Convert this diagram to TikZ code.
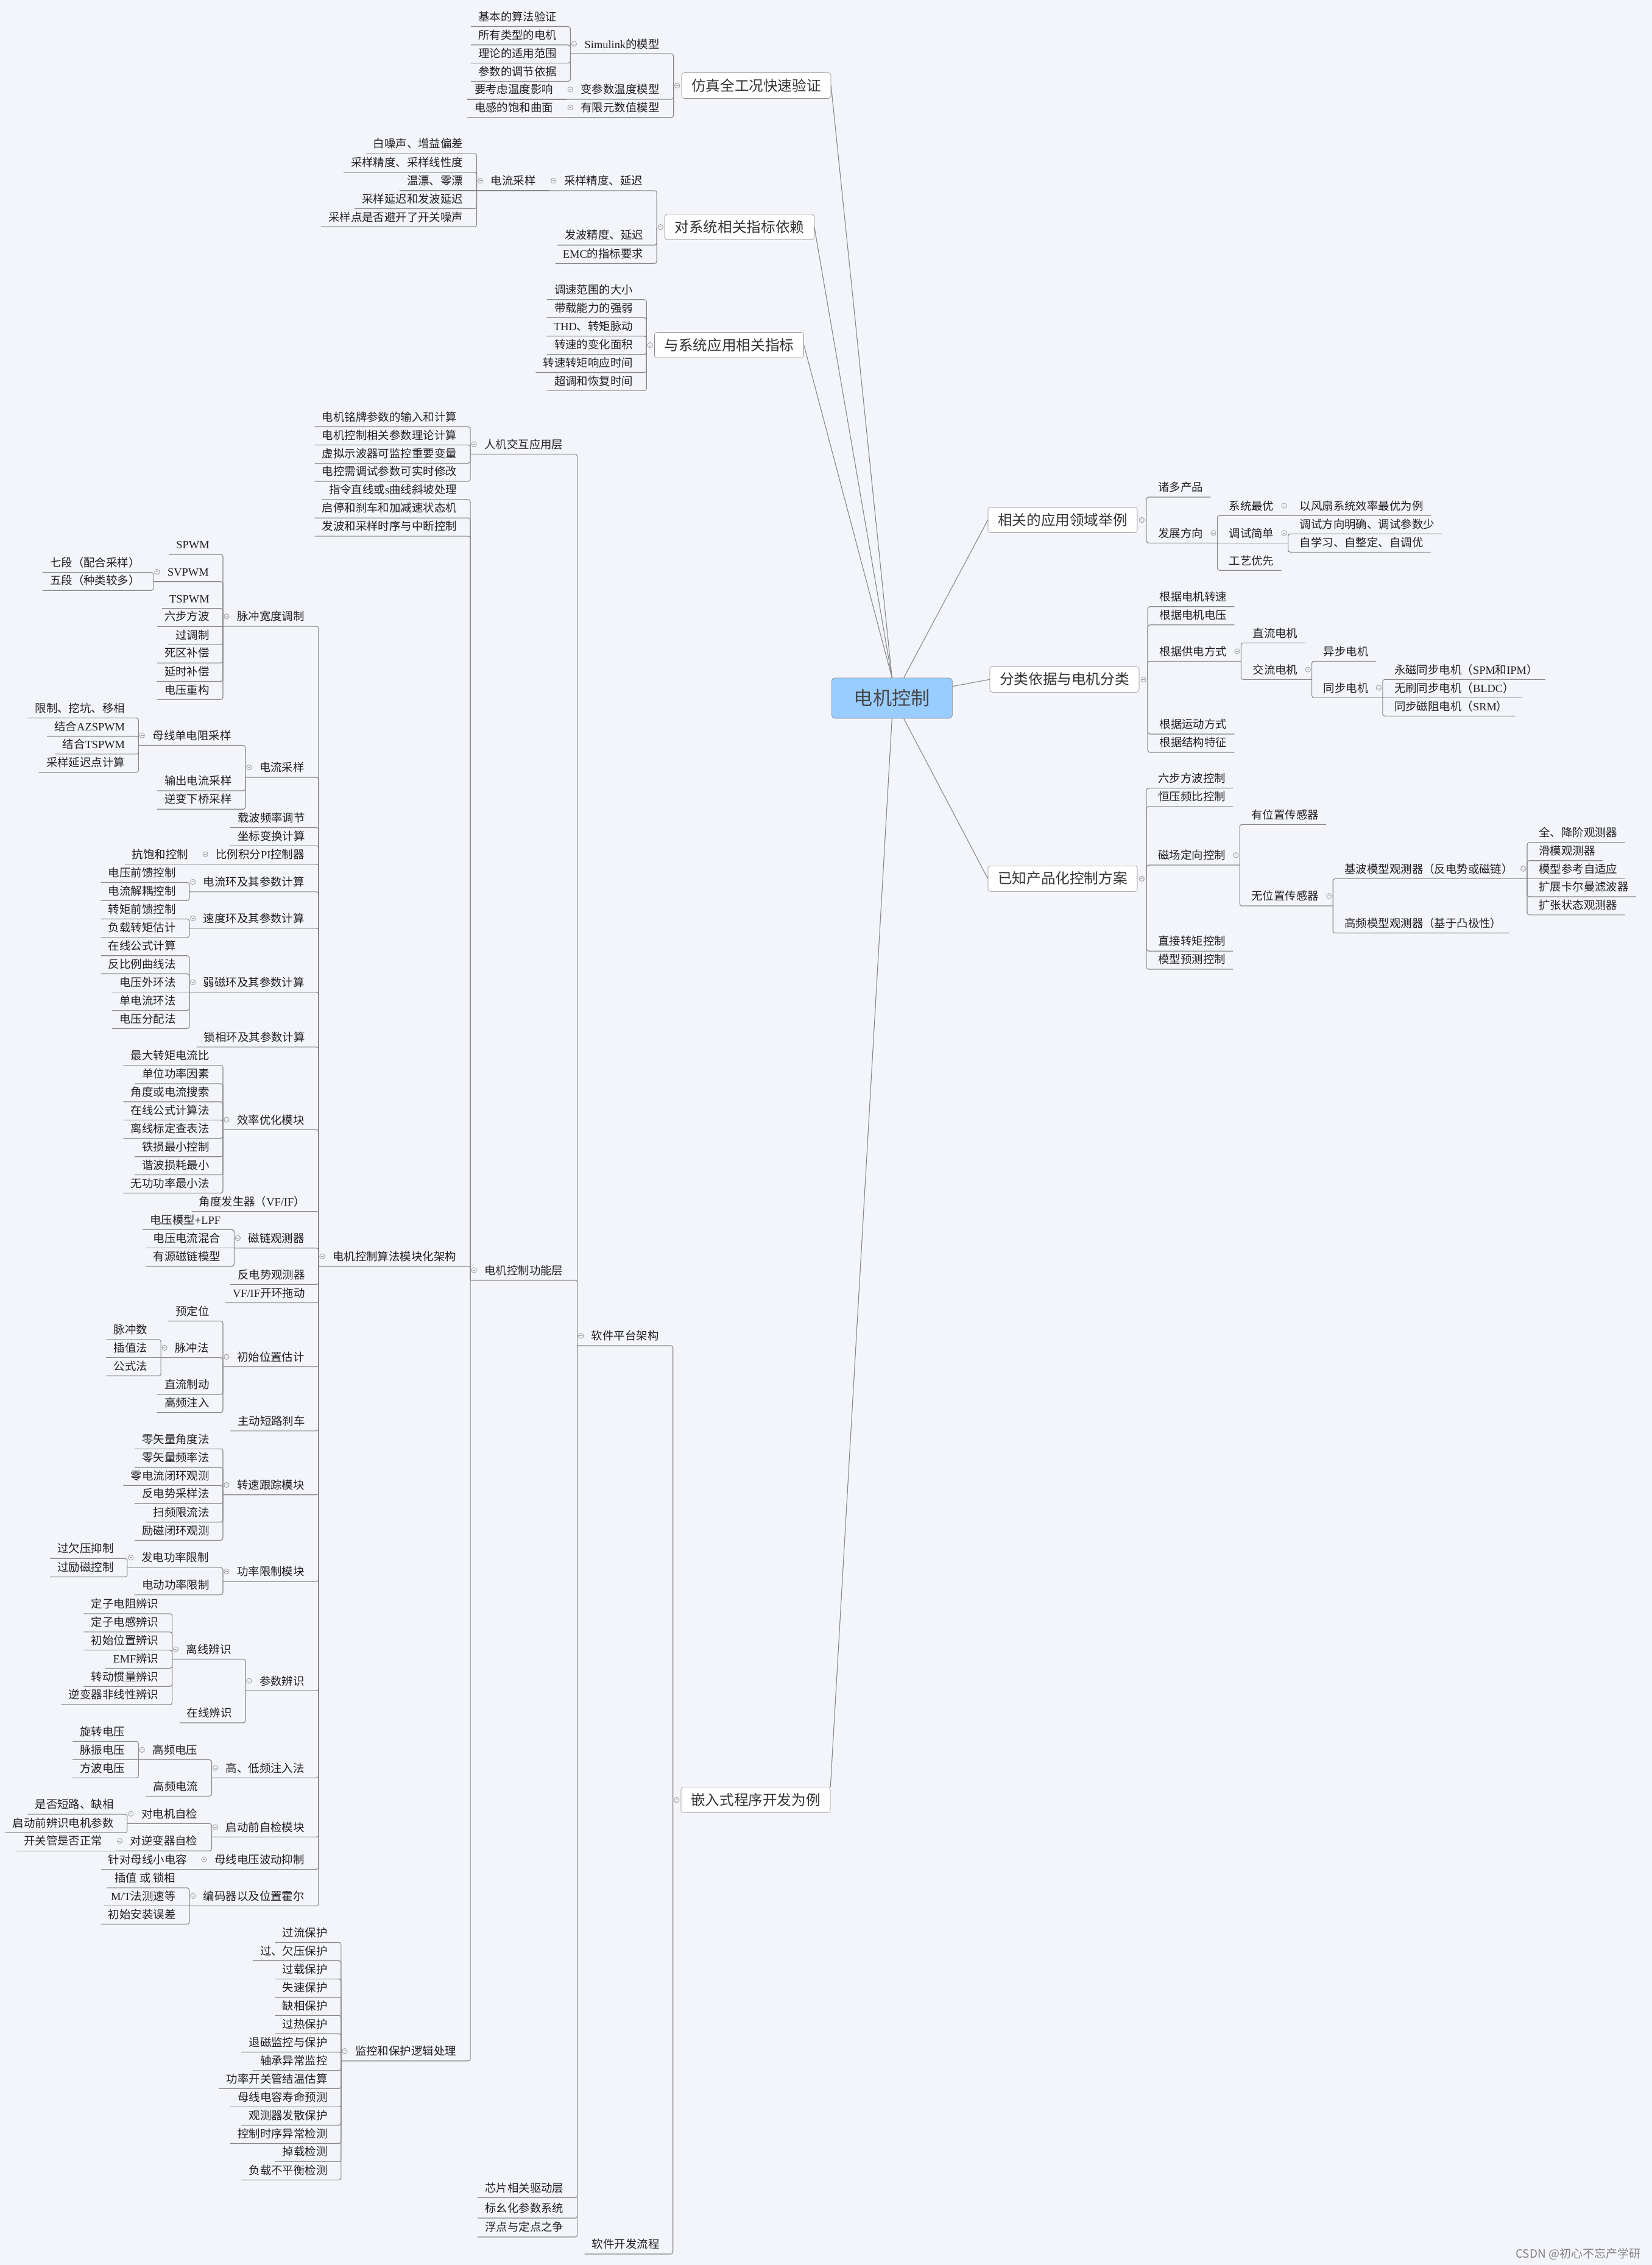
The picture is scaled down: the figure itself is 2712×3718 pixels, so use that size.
\documentclass[tikz,border=0pt]{standalone}
\usepackage{fontspec}
\setmainfont{Noto Sans CJK SC}
\newfontfamily\latn{Liberation Serif}

\definecolor{bgcol}{RGB}{243,245,250}
\definecolor{rootblue}{RGB}{153,204,255}
\definecolor{linegray}{RGB}{135,135,135}

\begin{document}
\begin{tikzpicture}[
	x=0.25mm, y=-0.25mm,
	root/.style={
		rectangle,
		rounded corners=1.3mm,
		draw=black!50,
		fill=rootblue,
		minimum width=49.5mm,
		minimum height=16.6mm,
		inner sep=0pt,
		text height=6.4mm,
		text depth=0.8mm,
		text=black!72,
		font=\fontsize{22.2pt}{26pt}\selectfont
	},
	main/.style={
		rectangle,
		rounded corners=1mm,
		draw=black!45,
		fill=white,
		minimum width=61.25mm,
		minimum height=10.5mm,
		inner sep=0pt,
		text height=4.85mm,
		text depth=0.6mm,
		text=black!80,
		font=\fontsize{16.8pt}{20pt}\selectfont
	},
	topic/.style={
		inner xsep=0pt,
		inner ysep=2.25mm,
		text height=3.5mm,
		text depth=0pt,
		text=black!88,
		font=\fontsize{13.1pt}{15pt}\selectfont
	},
	lleaf/.style={topic, anchor=south east,
		execute at begin node={\hspace*{3mm}},
		execute at end node={\hspace*{5.5mm}}},
	lsub/.style={topic, anchor=south east,
		execute at begin node={\hspace*{5.75mm}},
		execute at end node={\hspace*{5.75mm}}},
	rleaf/.style={topic, anchor=south west,
		execute at begin node={\hspace*{4.75mm}},
		execute at end node={\hspace*{3mm}}},
	rsub/.style={topic, anchor=south west,
		execute at begin node={\hspace*{4.75mm}},
		execute at end node={\hspace*{5.75mm}}},
	link/.style={draw=linegray, line width=0.28mm, rounded corners=0.9mm},
	spoke/.style={draw=linegray, line width=0.28mm},
	foldico/.style={draw=black!40, line width=0.2mm},
	wmark/.style={anchor=east, text=black!50, font=\fontsize{13.5pt}{16pt}\selectfont}
]

% Hintergrund
\fill[bgcol] (0,0) rectangle (2712,3718);
\useasboundingbox (0,0) rectangle (2712,3718);

% Zentrum
\node[root] (root) at (1464.3,1146) {电机控制};

% Hauptthemen
\node[main] (simu) at (1241.5,140.5) {仿真全工况快速验证};
\node[main] (depend) at (1214,372.7) {对系统相关指标依赖};
\node[main] (indexm) at (1197,566.5) {与系统应用相关指标};
\node[main] (embed) at (1240.5,2954.5) {嵌入式程序开发为例};
\node[main] (appl) at (1744.5,853.5) {相关的应用领域举例};
\node[main] (classify) at (1747.5,1115.3) {分类依据与电机分类};
\node[main] (scheme) at (1744.5,1442.4) {已知产品化控制方案};

\coordinate (simub) at ([xshift=-3.25mm]simu.west);
\coordinate (dependb) at ([xshift=-3.25mm]depend.west);
\coordinate (indexb) at ([xshift=-3.25mm]indexm.west);
\coordinate (embedb) at ([xshift=-3.25mm]embed.west);
\coordinate (applb) at ([xshift=3.7mm]appl.east);
\coordinate (classifyb) at ([xshift=3.5mm]classify.east);
\coordinate (schemeb) at ([xshift=3.7mm]scheme.east);

% Ast: Simulation
\node[lsub] (sml) at (simub |- 0,88.3) {{\latn Simulink}的模型};
\node[lleaf] (sml1) at (sml.south west |- 0,43.5) {基本的算法验证};
\node[lleaf] (sml2) at (sml.south west |- 0,73.8) {所有类型的电机};
\node[lleaf] (sml3) at (sml.south west |- 0,103.6) {理论的适用范围};
\node[lleaf] (sml4) at (sml.south west |- 0,133.5) {参数的调节依据};
\node[lsub] (vtm) at (simub |- 0,163) {变参数温度模型};
\node[lleaf] (vtm1) at (vtm.south west |- 0,163) {要考虑温度影响};
\node[lsub] (fem) at (simub |- 0,192.8) {有限元数值模型};
\node[lleaf] (fem1) at (fem.south west |- 0,192.8) {电感的饱和曲面};

% Ast: Systemkennwerte
\node[lsub] (spd) at (dependb |- 0,313) {采样精度、延迟};
\node[lsub] (isd) at (spd.south west |- 0,313) {电流采样};
\node[lleaf] (isd1) at (isd.south west |- 0,252.1) {白噪声、增益偏差};
\node[lleaf] (isd2) at (isd.south west |- 0,282.8) {采样精度、采样线性度};
\node[lleaf] (isd3) at (isd.south west |- 0,313) {温漂、零漂};
\node[lleaf] (isd4) at (isd.south west |- 0,342.5) {采样延迟和发波延迟};
\node[lleaf] (isd5) at (isd.south west |- 0,372.3) {采样点是否避开了开关噪声};
\node[lleaf] (pwd) at (dependb |- 0,402.2) {发波精度、延迟};
\node[lleaf] (emc) at (dependb |- 0,432.4) {{\latn EMC}的指标要求};

% Ast: Anwendungskennwerte
\node[lleaf] (idx1) at (indexb |- 0,491.7) {调速范围的大小};
\node[lleaf] (idx2) at (indexb |- 0,521.6) {带载能力的强弱};
\node[lleaf] (idx3) at (indexb |- 0,551.8) {{\latn THD}、转矩脉动};
\node[lleaf] (idx4) at (indexb |- 0,581.7) {转速的变化面积};
\node[lleaf] (idx5) at (indexb |- 0,611.5) {转速转矩响应时间};
\node[lleaf] (idx6) at (indexb |- 0,641.4) {超调和恢复时间};

% Ast: Embedded
\node[lsub] (swa) at (embedb |- 0,2209) {软件平台架构};
\node[lleaf] (swf) at (embedb |- 0,3700) {软件开发流程};
\node[lsub] (hmi) at (swa.south west |- 0,745.4) {人机交互应用层};
\node[lsub] (mcl) at (swa.south west |- 0,2101.3) {电机控制功能层};
\node[lleaf] (drv) at (swa.south west |- 0,3607.5) {芯片相关驱动层};
\node[lleaf] (pu) at (swa.south west |- 0,3641) {标幺化参数系统};
\node[lleaf] (flt) at (swa.south west |- 0,3672) {浮点与定点之争};

\node[lleaf] (hmi1) at (hmi.south west |- 0,700.6) {电机铭牌参数的输入和计算};
\node[lleaf] (hmi2) at (hmi.south west |- 0,730.4) {电机控制相关参数理论计算};
\node[lleaf] (hmi3) at (hmi.south west |- 0,760.3) {虚拟示波器可监控重要变量};
\node[lleaf] (hmi4) at (hmi.south west |- 0,790.1) {电控需调试参数可实时修改};

\node[lleaf] (cmd) at (mcl.south west |- 0,820) {指令直线或{\latn s}曲线斜坡处理};
\node[lleaf] (ssm) at (mcl.south west |- 0,850.2) {启停和刹车和加减速状态机};
\node[lleaf] (tim) at (mcl.south west |- 0,880.1) {发波和采样时序与中断控制};
\node[lsub] (alg) at (mcl.south west |- 0,2078.5) {电机控制算法模块化架构};
\node[lsub] (mon) at (mcl.south west |- 0,3383) {监控和保护逻辑处理};

% Algorithmusmodule
\node[lsub] (pwm) at (alg.south west |- 0,1028.1) {脉冲宽度调制};
\node[lsub] (isp) at (alg.south west |- 0,1276) {电流采样};
\node[lleaf] (car) at (alg.south west |- 0,1358.5) {载波频率调节};
\node[lleaf] (cot) at (alg.south west |- 0,1388.3) {坐标变换计算};
\node[lsub] (pictl) at (alg.south west |- 0,1418.6) {比例积分{\latn PI}控制器};
\node[lsub] (cur) at (alg.south west |- 0,1463.8) {电流环及其参数计算};
\node[lsub] (spl) at (alg.south west |- 0,1523.9) {速度环及其参数计算};
\node[lsub] (fwk) at (alg.south west |- 0,1628.8) {弱磁环及其参数计算};
\node[lleaf] (pll) at (alg.south west |- 0,1718.7) {锁相环及其参数计算};
\node[lsub] (eff) at (alg.south west |- 0,1854.3) {效率优化模块};
\node[lleaf] (ang) at (alg.south west |- 0,1988.6) {角度发生器（{\latn VF/IF}）};
\node[lsub] (flx) at (alg.south west |- 0,2048.7) {磁链观测器};
\node[lleaf] (bemf) at (alg.south west |- 0,2108.4) {反电势观测器};
\node[lleaf] (vfo) at (alg.south west |- 0,2138.6) {{\latn VF/IF}开环拖动};
\node[lsub] (ipe) at (alg.south west |- 0,2243.5) {初始位置估计};
\node[lleaf] (asc) at (alg.south west |- 0,2348.8) {主动短路刹车};
\node[lsub] (spt) at (alg.south west |- 0,2453.7) {转速跟踪模块};
\node[lsub] (plm) at (alg.south west |- 0,2596) {功率限制模块};
\node[lsub] (pid) at (alg.south west |- 0,2775.4) {参数辨识};
\node[lsub] (hlf) at (alg.south west |- 0,2918.4) {高、低频注入法};
\node[lsub] (chk) at (alg.south west |- 0,3015.4) {启动前自检模块};
\node[lsub] (dcb) at (alg.south west |- 0,3068.5) {母线电压波动抑制};
\node[lsub] (enc) at (alg.south west |- 0,3128.6) {编码器以及位置霍尔};

\node[lleaf] (spwm) at (pwm.south west |- 0,910) {{\latn SPWM}};
\node[lsub] (svpwm) at (pwm.south west |- 0,954.7) {{\latn SVPWM}};
\node[lleaf] (tspwm) at (pwm.south west |- 0,998.7) {{\latn TSPWM}};
\node[lleaf] (six) at (pwm.south west |- 0,1028.1) {六步方波};
\node[lleaf] (ovm) at (pwm.south west |- 0,1058.4) {过调制};
\node[lleaf] (dtc) at (pwm.south west |- 0,1088.2) {死区补偿};
\node[lleaf] (dlc) at (pwm.south west |- 0,1118.5) {延时补偿};
\node[lleaf] (vrc) at (pwm.south west |- 0,1148.3) {电压重构};
\node[lleaf] (sv1) at (svpwm.south west |- 0,939.4) {七段（配合采样）};
\node[lleaf] (sv2) at (svpwm.south west |- 0,969.2) {五段（种类较多）};

\node[lsub] (msr) at (isp.south west |- 0,1223.4) {母线单电阻采样};
\node[lleaf] (ocs) at (isp.south west |- 0,1298) {输出电流采样};
\node[lleaf] (ibs) at (isp.south west |- 0,1328.2) {逆变下桥采样};
\node[lleaf] (msr1) at (msr.south west |- 0,1178.6) {限制、挖坑、移相};
\node[lleaf] (msr2) at (msr.south west |- 0,1208.5) {结合{\latn AZSPWM}};
\node[lleaf] (msr3) at (msr.south west |- 0,1237.9) {结合{\latn TSPWM}};
\node[lleaf] (msr4) at (msr.south west |- 0,1267.7) {采样延迟点计算};

\node[lleaf] (pictl1) at (pictl.south west |- 0,1418.6) {抗饱和控制};
\node[lleaf] (cur1) at (cur.south west |- 0,1448.4) {电压前馈控制};
\node[lleaf] (cur2) at (cur.south west |- 0,1478.3) {电流解耦控制};
\node[lleaf] (spl1) at (spl.south west |- 0,1508.5) {转矩前馈控制};
\node[lleaf] (spl2) at (spl.south west |- 0,1538.8) {负载转矩估计};
\node[lleaf] (fwk1) at (fwk.south west |- 0,1568.7) {在线公式计算};
\node[lleaf] (fwk2) at (fwk.south west |- 0,1598.5) {反比例曲线法};
\node[lleaf] (fwk3) at (fwk.south west |- 0,1628.8) {电压外环法};
\node[lleaf] (fwk4) at (fwk.south west |- 0,1658.6) {单电流环法};
\node[lleaf] (fwk5) at (fwk.south west |- 0,1688.5) {电压分配法};

\node[lleaf] (eff1) at (eff.south west |- 0,1748.6) {最大转矩电流比};
\node[lleaf] (eff2) at (eff.south west |- 0,1778.9) {单位功率因素};
\node[lleaf] (eff3) at (eff.south west |- 0,1808.7) {角度或电流搜索};
\node[lleaf] (eff4) at (eff.south west |- 0,1838.6) {在线公式计算法};
\node[lleaf] (eff5) at (eff.south west |- 0,1868.4) {离线标定查表法};
\node[lleaf] (eff6) at (eff.south west |- 0,1898.7) {铁损最小控制};
\node[lleaf] (eff7) at (eff.south west |- 0,1928.5) {谐波损耗最小};
\node[lleaf] (eff8) at (eff.south west |- 0,1958.4) {无功功率最小法};

\node[lleaf] (flx1) at (flx.south west |- 0,2018.4) {电压模型{\latn +LPF}};
\node[lleaf] (flx2) at (flx.south west |- 0,2048.7) {电压电流混合};
\node[lleaf] (flx3) at (flx.south west |- 0,2078.5) {有源磁链模型};

\node[lleaf] (pre) at (ipe.south west |- 0,2168.5) {预定位};
\node[lsub] (pulse) at (ipe.south west |- 0,2228.6) {脉冲法};
\node[lleaf] (dcs) at (ipe.south west |- 0,2288.7) {直流制动};
\node[lleaf] (hfi) at (ipe.south west |- 0,2318.6) {高频注入};
\node[lleaf] (pulse1) at (pulse.south west |- 0,2198.8) {脉冲数};
\node[lleaf] (pulse2) at (pulse.south west |- 0,2228.6) {插值法};
\node[lleaf] (pulse3) at (pulse.south west |- 0,2258.5) {公式法};

\node[lleaf] (spt1) at (spt.south west |- 0,2378.3) {零矢量角度法};
\node[lleaf] (spt2) at (spt.south west |- 0,2408.5) {零矢量频率法};
\node[lleaf] (spt3) at (spt.south west |- 0,2438.4) {零电流闭环观测};
\node[lleaf] (spt4) at (spt.south west |- 0,2468.2) {反电势采样法};
\node[lleaf] (spt5) at (spt.south west |- 0,2498.5) {扫频限流法};
\node[lleaf] (spt6) at (spt.south west |- 0,2528.4) {励磁闭环观测};

\node[lsub] (gpl) at (plm.south west |- 0,2573.1) {发电功率限制};
\node[lleaf] (mpl) at (plm.south west |- 0,2617.8) {电动功率限制};
\node[lleaf] (gpl1) at (gpl.south west |- 0,2558.2) {过欠压抑制};
\node[lleaf] (gpl2) at (gpl.south west |- 0,2588.5) {过励磁控制};

\node[lsub] (offl) at (pid.south west |- 0,2723.5) {离线辨识};
\node[lleaf] (onl) at (pid.south west |- 0,2828) {在线辨识};
\node[lleaf] (offl1) at (offl.south west |- 0,2648.9) {定子电阻辨识};
\node[lleaf] (offl2) at (offl.south west |- 0,2678.8) {定子电感辨识};
\node[lleaf] (offl3) at (offl.south west |- 0,2708.6) {初始位置辨识};
\node[lleaf] (offl4) at (offl.south west |- 0,2738.5) {{\latn EMF}辨识};
\node[lleaf] (offl5) at (offl.south west |- 0,2768.3) {转动惯量辨识};
\node[lleaf] (offl6) at (offl.south west |- 0,2798.2) {逆变器非线性辨识};

\node[lsub] (hfv) at (hlf.south west |- 0,2888.6) {高频电压};
\node[lleaf] (hfc) at (hlf.south west |- 0,2948.3) {高频电流};
\node[lleaf] (hfv1) at (hfv.south west |- 0,2858.3) {旋转电压};
\node[lleaf] (hfv2) at (hfv.south west |- 0,2888.6) {脉振电压};
\node[lleaf] (hfv3) at (hfv.south west |- 0,2918.4) {方波电压};

\node[lsub] (cmo) at (chk.south west |- 0,2993.4) {对电机自检};
\node[lsub] (cinv) at (chk.south west |- 0,3038.2) {对逆变器自检};
\node[lleaf] (cmo1) at (cmo.south west |- 0,2978.1) {是否短路、缺相};
\node[lleaf] (cmo2) at (cmo.south west |- 0,3008.4) {启动前辨识电机参数};
\node[lleaf] (cinv1) at (cinv.south west |- 0,3038.2) {开关管是否正常};

\node[lleaf] (dcb1) at (dcb.south west |- 0,3068.5) {针对母线小电容};
\node[lleaf] (enc1) at (enc.south west |- 0,3098.8) {插值 或 锁相};
\node[lleaf] (enc2) at (enc.south west |- 0,3128.6) {{\latn M/T}法测速等};
\node[lleaf] (enc3) at (enc.south west |- 0,3158.5) {初始安装误差};

% Schutzfunktionen
\node[lleaf] (mon1) at (mon.south west |- 0,3188.4) {过流保护};
\node[lleaf] (mon2) at (mon.south west |- 0,3218.5) {过、欠压保护};
\node[lleaf] (mon3) at (mon.south west |- 0,3248.6) {过载保护};
\node[lleaf] (mon4) at (mon.south west |- 0,3278.3) {失速保护};
\node[lleaf] (mon5) at (mon.south west |- 0,3308.3) {缺相保护};
\node[lleaf] (mon6) at (mon.south west |- 0,3338.4) {过热保护};
\node[lleaf] (mon7) at (mon.south west |- 0,3368.5) {退磁监控与保护};
\node[lleaf] (mon8) at (mon.south west |- 0,3398.6) {轴承异常监控};
\node[lleaf] (mon9) at (mon.south west |- 0,3428.3) {功率开关管结温估算};
\node[lleaf] (mon10) at (mon.south west |- 0,3458.3) {母线电容寿命预测};
\node[lleaf] (mon11) at (mon.south west |- 0,3488.4) {观测器发散保护};
\node[lleaf] (mon12) at (mon.south west |- 0,3518.5) {控制时序异常检测};
\node[lleaf] (mon13) at (mon.south west |- 0,3548.2) {掉载检测};
\node[lleaf] (mon14) at (mon.south west |- 0,3578.3) {负载不平衡检测};

% Ast: Anwendungen (rechts)
\node[rleaf] (many) at (applb |- 0,816) {诸多产品};
\node[rsub] (dev) at (applb |- 0,891.3) {发展方向};
\node[rsub] (sysopt) at (dev.south east |- 0,846.3) {系统最优};
\node[rleaf] (sysopt1) at (sysopt.south east |- 0,846.3) {以风扇系统效率最优为例};
\node[rsub] (dbg) at (dev.south east |- 0,891.3) {调试简单};
\node[rleaf] (dbg1) at (dbg.south east |- 0,876.3) {调试方向明确、调试参数少};
\node[rleaf] (dbg2) at (dbg.south east |- 0,906.3) {自学习、自整定、自调优};
\node[rleaf] (proc) at (dev.south east |- 0,936.3) {工艺优先};

% Ast: Klassifikation (rechts)
\node[rleaf] (cls1) at (classifyb |- 0,995.7) {根据电机转速};
\node[rleaf] (cls2) at (classifyb |- 0,1025.7) {根据电机电压};
\node[rsub] (pwr) at (classifyb |- 0,1085.3) {根据供电方式};
\node[rleaf] (cls3) at (classifyb |- 0,1205) {根据运动方式};
\node[rleaf] (cls4) at (classifyb |- 0,1235) {根据结构特征};
\node[rleaf] (dcm) at (pwr.south east |- 0,1055.3) {直流电机};
\node[rsub] (acm) at (pwr.south east |- 0,1115.3) {交流电机};
\node[rleaf] (asm) at (acm.south east |- 0,1085.3) {异步电机};
\node[rsub] (sym) at (acm.south east |- 0,1145.3) {同步电机};
\node[rleaf] (sym1) at (sym.south east |- 0,1115.3) {永磁同步电机（{\latn SPM}和{\latn IPM}）};
\node[rleaf] (sym2) at (sym.south east |- 0,1145.3) {无刷同步电机（{\latn BLDC}）};
\node[rleaf] (sym3) at (sym.south east |- 0,1175.3) {同步磁阻电机（{\latn SRM}）};

% Ast: Regelverfahren (rechts)
\node[rleaf] (sch1) at (schemeb |- 0,1293.9) {六步方波控制};
\node[rleaf] (sch2) at (schemeb |- 0,1323.9) {恒压频比控制};
\node[rsub] (foc) at (schemeb |- 0,1420) {磁场定向控制};
\node[rleaf] (sch3) at (schemeb |- 0,1561.2) {直接转矩控制};
\node[rleaf] (sch4) at (schemeb |- 0,1591) {模型预测控制};
\node[rleaf] (sens) at (foc.south east |- 0,1353.3) {有位置传感器};
\node[rsub] (sless) at (foc.south east |- 0,1487) {无位置传感器};
\node[rsub] (fmo) at (sless.south east |- 0,1442.4) {基波模型观测器（反电势或磁链）};
\node[rleaf] (hfo) at (sless.south east |- 0,1531.5) {高频模型观测器（基于凸极性）};
\node[rleaf] (fmo1) at (fmo.south east |- 0,1383) {全、降阶观测器};
\node[rleaf] (fmo2) at (fmo.south east |- 0,1412.7) {滑模观测器};
\node[rleaf] (fmo3) at (fmo.south east |- 0,1442.4) {模型参考自适应};
\node[rleaf] (fmo4) at (fmo.south east |- 0,1472) {扩展卡尔曼滤波器};
\node[rleaf] (fmo5) at (fmo.south east |- 0,1501.8) {扩张状态观测器};

\node[wmark] (wm) at (2698,3700) {CSDN @初心不忘产学研};

% Verbindungen vom Zentrum
\draw[spoke] (root.north) -- (simu.east);
\draw[spoke] (root.north) -- (depend.east);
\draw[spoke] (root.north) -- (indexm.east);
\draw[spoke] (root.south) -- (embed.north east);
\draw[spoke] (root.60) -- (appl.west);
\draw[spoke] (root.11) -- (classify.west);
\draw[spoke] (root.-60) -- (scheme.west);

% Klammern links
\foreach \c in {sml,vtm,fem} \draw[link] (simub) |- (\c.south west);
\foreach \c in {sml1,sml2,sml3,sml4} \draw[link] (sml.south west) |- (\c.south west);
\draw[link] (vtm.south west) -- (vtm1.south west);
\draw[link] (fem.south west) -- (fem1.south west);

\foreach \c in {spd,pwd,emc} \draw[link] (dependb) |- (\c.south west);
\draw[link] (spd.south west) -- (isd.south west);
\foreach \c in {isd1,isd2,isd4,isd5} \draw[link] (isd.south west) |- (\c.south west);
\draw[link] (isd.south west) -- (isd3.south west);

\foreach \c in {idx1,idx2,idx3,idx4,idx5,idx6} \draw[link] (indexb) |- (\c.south west);

\foreach \c in {swa,swf} \draw[link] (embedb) |- (\c.south west);
\foreach \c in {hmi,mcl,drv,pu,flt} \draw[link] (swa.south west) |- (\c.south west);
\foreach \c in {hmi1,hmi2,hmi3,hmi4} \draw[link] (hmi.south west) |- (\c.south west);
\foreach \c in {cmd,ssm,tim,alg,mon} \draw[link] (mcl.south west) |- (\c.south west);

\foreach \c in {pwm,isp,car,cot,pictl,cur,spl,fwk,pll,eff,ang,flx,bemf,vfo,
	ipe,asc,spt,plm,pid,hlf,chk,dcb,enc} \draw[link] (alg.south west) |- (\c.south west);
\foreach \c in {spwm,svpwm,tspwm,ovm,dtc,dlc,vrc} \draw[link] (pwm.south west) |- (\c.south west);
\draw[link] (pwm.south west) -- (six.south west);
\foreach \c in {sv1,sv2} \draw[link] (svpwm.south west) |- (\c.south west);
\foreach \c in {msr,ocs,ibs} \draw[link] (isp.south west) |- (\c.south west);
\foreach \c in {msr1,msr2,msr3,msr4} \draw[link] (msr.south west) |- (\c.south west);
\draw[link] (pictl.south west) -- (pictl1.south west);
\foreach \c in {cur1,cur2} \draw[link] (cur.south west) |- (\c.south west);
\foreach \c in {spl1,spl2} \draw[link] (spl.south west) |- (\c.south west);
\foreach \c in {fwk1,fwk2,fwk4,fwk5} \draw[link] (fwk.south west) |- (\c.south west);
\draw[link] (fwk.south west) -- (fwk3.south west);
\foreach \c in {eff1,eff2,eff3,eff4,eff5,eff6,eff7,eff8} \draw[link] (eff.south west) |- (\c.south west);
\foreach \c in {flx1,flx3} \draw[link] (flx.south west) |- (\c.south west);
\draw[link] (flx.south west) -- (flx2.south west);
\foreach \c in {pre,pulse,dcs,hfi} \draw[link] (ipe.south west) |- (\c.south west);
\foreach \c in {pulse1,pulse3} \draw[link] (pulse.south west) |- (\c.south west);
\draw[link] (pulse.south west) -- (pulse2.south west);
\foreach \c in {spt1,spt2,spt3,spt4,spt5,spt6} \draw[link] (spt.south west) |- (\c.south west);
\foreach \c in {gpl,mpl} \draw[link] (plm.south west) |- (\c.south west);
\foreach \c in {gpl1,gpl2} \draw[link] (gpl.south west) |- (\c.south west);
\foreach \c in {offl,onl} \draw[link] (pid.south west) |- (\c.south west);
\foreach \c in {offl1,offl2,offl3,offl4,offl5,offl6} \draw[link] (offl.south west) |- (\c.south west);
\foreach \c in {hfv,hfc} \draw[link] (hlf.south west) |- (\c.south west);
\foreach \c in {hfv1,hfv3} \draw[link] (hfv.south west) |- (\c.south west);
\draw[link] (hfv.south west) -- (hfv2.south west);
\foreach \c in {cmo,cinv} \draw[link] (chk.south west) |- (\c.south west);
\foreach \c in {cmo1,cmo2} \draw[link] (cmo.south west) |- (\c.south west);
\draw[link] (cinv.south west) -- (cinv1.south west);
\draw[link] (dcb.south west) -- (dcb1.south west);
\foreach \c in {enc1,enc3} \draw[link] (enc.south west) |- (\c.south west);
\draw[link] (enc.south west) -- (enc2.south west);
\foreach \c in {mon1,mon2,mon3,mon4,mon5,mon6,mon7,mon8,mon9,mon10,mon11,mon12,mon13,mon14}
	\draw[link] (mon.south west) |- (\c.south west);

% Klammern rechts
\foreach \c in {many,dev} \draw[link] (applb) |- (\c.south east);
\foreach \c in {sysopt,proc} \draw[link] (dev.south east) |- (\c.south east);
\draw[link] (dev.south east) -- (dbg.south east);
\draw[link] (sysopt.south east) -- (sysopt1.south east);
\foreach \c in {dbg1,dbg2} \draw[link] (dbg.south east) |- (\c.south east);

\foreach \c in {cls1,cls2,pwr,cls3,cls4} \draw[link] (classifyb) |- (\c.south east);
\foreach \c in {dcm,acm} \draw[link] (pwr.south east) |- (\c.south east);
\foreach \c in {asm,sym} \draw[link] (acm.south east) |- (\c.south east);
\foreach \c in {sym1,sym3} \draw[link] (sym.south east) |- (\c.south east);
\draw[link] (sym.south east) -- (sym2.south east);

\foreach \c in {sch1,sch2,foc,sch3,sch4} \draw[link] (schemeb) |- (\c.south east);
\foreach \c in {sens,sless} \draw[link] (foc.south east) |- (\c.south east);
\foreach \c in {fmo,hfo} \draw[link] (sless.south east) |- (\c.south east);
\foreach \c in {fmo1,fmo2,fmo4,fmo5} \draw[link] (fmo.south east) |- (\c.south east);
\draw[link] (fmo.south east) -- (fmo3.south east);

% Einklapp-Symbole
\foreach \n in {sml,vtm,fem,spd,isd,swa,hmi,mcl,alg,mon,pwm,svpwm,isp,msr,pictl,
	cur,spl,fwk,eff,flx,ipe,pulse,spt,plm,gpl,pid,offl,hfv,hlf,chk,cmo,cinv,dcb,enc}{
	\draw[foldico] ([xshift=1.5mm]\n.west) circle[radius=1.05mm];
	\draw[foldico] ([xshift=0.95mm]\n.west) -- ([xshift=2.05mm]\n.west);
}
\foreach \n in {dev,sysopt,dbg,pwr,acm,sym,foc,sless,fmo}{
	\draw[foldico] ([xshift=-1.6mm]\n.east) circle[radius=1.05mm];
	\draw[foldico] ([xshift=-2.15mm]\n.east) -- ([xshift=-1.05mm]\n.east);
}
\foreach \n in {simu,depend,indexm,embed}{
	\draw[foldico] ([xshift=-1.75mm]\n.west) circle[radius=1.05mm];
	\draw[foldico] ([xshift=-2.3mm]\n.west) -- ([xshift=-1.2mm]\n.west);
}
\foreach \n in {appl,classify,scheme}{
	\draw[foldico] ([xshift=1.75mm]\n.east) circle[radius=1.05mm];
	\draw[foldico] ([xshift=1.2mm]\n.east) -- ([xshift=2.3mm]\n.east);
}

\end{tikzpicture}
\end{document}
